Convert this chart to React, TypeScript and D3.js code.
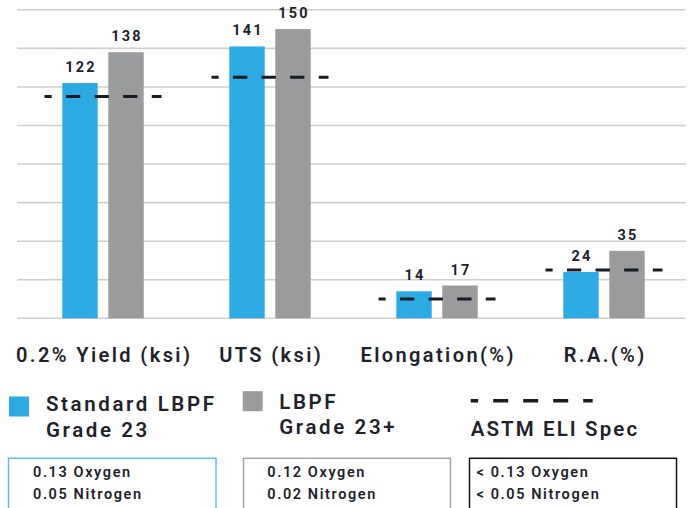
import React from "react";
import * as d3 from "d3";

const categories = ["0.2% Yield (ksi)", "UTS (ksi)", "Elongation(%)", "R.A.(%)"];
const standardValues = [122, 141, 14, 24];
const plusValues = [138, 150, 17, 35];
const specValues = [115, 125, 10, 25];
const gridTicks = [0, 20, 40, 60, 80, 100, 120, 140, 160];

const seriesNames = [["Standard LBPF", "Grade 23"], ["LBPF", "Grade 23+"]];
const specName = "ASTM ELI Spec";
const boxLines = [
  ["0.13 Oxygen", "0.05 Nitrogen"],
  ["0.12 Oxygen", "0.02 Nitrogen"],
  ["< 0.13 Oxygen", "< 0.05 Nitrogen"],
];

const W = 690;
const H = 508;
const BLUE = "#2eaae2";
const GRAY = "#9a9b9d";
const TEXT = "#1e222b";
const FONT = "Roboto, 'DejaVu Sans', sans-serif";

export default function App() {
  const x = d3.scaleBand<string>().domain(categories).range([19.5, 687.5]).padding(0);
  const y = d3.scaleLinear().domain([0, 160]).range([318.3, 9.8]);
  const barW = 35.4;
  const gap = 10.6;
  const cx = (c: string) => (x(c) as number) + x.bandwidth() / 2;
  const vls = 2.2;
  const cls = 2.4;

  return (
    <svg
      width={W}
      height={H}
      style={{ position: "absolute", left: 0, top: 0, background: "#fff" }}
      fontFamily={FONT}
    >
      {/* gridlines */}
      {gridTicks.map((t) => (
        <line key={t} x1={17} x2={686} y1={y(t)} y2={y(t)} stroke="#cfcfcf" strokeWidth={1.6} />
      ))}
      {/* bars */}
      {categories.map((c, i) => (
        <g key={c}>
          <rect x={cx(c) - gap / 2 - barW} y={y(standardValues[i])} width={barW} height={y(0) - y(standardValues[i])} fill={BLUE} />
          <rect x={cx(c) + gap / 2} y={y(plusValues[i])} width={barW} height={y(0) - y(plusValues[i])} fill={GRAY} />
          <text x={cx(c) - gap / 2 - barW / 2 + vls / 2} y={y(standardValues[i]) - 11} textAnchor="middle" fontSize={14.5} fontWeight={700} letterSpacing={vls} fill={TEXT}>
            {standardValues[i]}
          </text>
          <text x={cx(c) + gap / 2 + barW / 2 + vls / 2} y={y(plusValues[i]) - 11} textAnchor="middle" fontSize={14.5} fontWeight={700} letterSpacing={vls} fill={TEXT}>
            {plusValues[i]}
          </text>
          <line
            x1={cx(c) - 58.5}
            x2={cx(c) + 58.5}
            y1={y(specValues[i])}
            y2={y(specValues[i])}
            stroke="#161b26"
            strokeWidth={3}
            strokeDasharray="14.3 14.3"
            strokeDashoffset={7.15}
          />
          <text x={cx(c) + cls / 2} y={362} textAnchor="middle" fontSize={20} fontWeight={600} letterSpacing={cls} fill={TEXT}>
            {c}
          </text>
        </g>
      ))}

      {/* legend */}
      <rect x={9} y={396.5} width={20} height={20} fill={BLUE} />
      <text x={46} y={410.7} fontSize={20.5} fontWeight={600} letterSpacing={2.6} fill={TEXT}>{seriesNames[0][0]}</text>
      <text x={46} y={436.7} fontSize={20.5} fontWeight={600} letterSpacing={2.6} fill={TEXT}>{seriesNames[0][1]}</text>

      <rect x={242.7} y={391.2} width={20} height={20} fill={GRAY} />
      <text x={279.3} y={409.3} fontSize={20.5} fontWeight={600} letterSpacing={2.6} fill={TEXT}>{seriesNames[1][0]}</text>
      <text x={279.3} y={434.3} fontSize={20.5} fontWeight={600} letterSpacing={2.6} fill={TEXT}>{seriesNames[1][1]}</text>

      <line x1={470.7} x2={592.7} y1={400.8} y2={400.8} stroke="#161b26" strokeWidth={3.5} strokeDasharray="15 15" strokeDashoffset={7.5} />
      <text x={470.7} y={435.7} fontSize={20.5} fontWeight={600} letterSpacing={2.1} fill={TEXT}>{specName}</text>

      {/* composition boxes */}
      {[
        { x0: 8.5, x1: 216, stroke: "#5bbfea", tx: 33 },
        { x0: 243.5, x1: 450.5, stroke: "#a6a6a6", tx: 267.3 },
        { x0: 469.5, x1: 676.5, stroke: "#111111", tx: 476.5 },
      ].map((b, i) => (
        <g key={i}>
          <rect x={b.x0} y={458.3} width={b.x1 - b.x0} height={80} fill="none" stroke={b.stroke} strokeWidth={1.5} />
          <text x={b.tx} y={477} fontSize={14.5} fontWeight={600} letterSpacing={1.6} fill={TEXT}>{boxLines[i][0]}</text>
          <text x={b.tx} y={498.5} fontSize={14.5} fontWeight={600} letterSpacing={1.6} fill={TEXT}>{boxLines[i][1]}</text>
        </g>
      ))}
    </svg>
  );
}
